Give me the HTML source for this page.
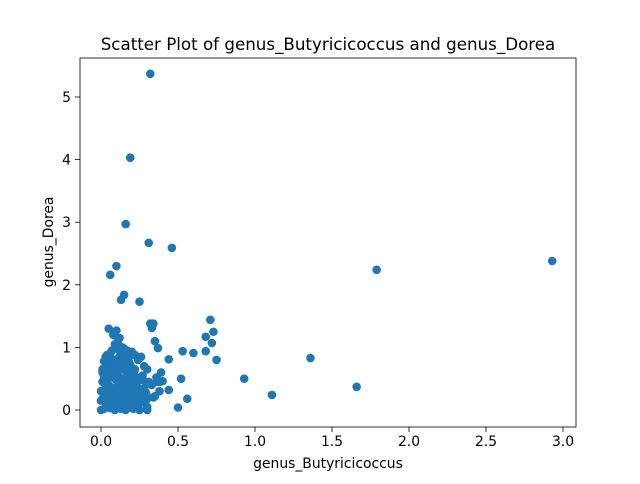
<!DOCTYPE html>
<html><head><meta charset="utf-8"><style>
body{margin:0;background:#fff;font-family:"DejaVu Sans","Liberation Sans",sans-serif}
svg text{font-family:"DejaVu Sans","Liberation Sans",sans-serif}
</style></head><body>
<svg id="c" width="640" height="480">
<rect width="640" height="480" fill="#fff"/>
</svg>
<script>
const xValues=[0.32,0.19,0.16,0.31,0.46,0.06,0.10,1.79,2.93,0.25,0.15,0.13,0.71,0.73,0.68,0.72,0.68,0.75,0.53,0.60,0.44,0.93,1.11,1.36,1.66,0.52,0.50,0.56,0.44,0.35,0.37,0.32,0.34,0.33,0.36,0.39,0.40,0.30,
0.05,0.08,0.10,0.12,0.02,0.03,0.04,0.06,0.07,0.09,0.11,0.13,0.14,0.15,0.17,0.18,0.20,0.22,0.24,0.26,0.28,0.30,
0.01,0.02,0.03,0.05,0.06,0.08,0.10,0.12,0.14,0.16,0.18,0.20,0.22,0.25,0.27,
0.01,0.02,0.04,0.05,0.07,0.09,0.11,0.13,0.15,0.17,0.19,0.21,0.23,0.26,0.29,0.33,
0.00,0.02,0.03,0.05,0.07,0.08,0.10,0.12,0.14,0.16,0.19,0.21,0.24,0.28,0.31,0.35,0.38,
0.00,0.01,0.03,0.04,0.06,0.08,0.10,0.12,0.15,0.17,0.20,0.23,0.26,0.29,0.34,
0.00,0.02,0.04,0.06,0.09,0.11,0.13,0.16,0.18,0.21,0.25,0.30,0.27,0.12,0.08,0.05,0.02,0.19,0.22,0.14,
0.03,0.06,0.09,0.12,0.15,0.18,0.21,0.24,0.04,0.07,0.10,0.13,0.16,0.19,0.22,0.25,0.28,0.02,0.05,0.08,0.11,0.14,0.17,0.20,0.23,0.01,0.04,0.07,0.10,0.13,0.16,0.19,0.03,0.06,0.09,0.12,0.15,0.18,0.11,0.14,0.17,0.09,0.36,0.38,0.31];
const yValues=[5.37,4.03,2.97,2.67,2.59,2.16,2.30,2.24,2.38,1.73,1.84,1.76,1.44,1.25,1.17,1.07,0.94,0.80,0.94,0.91,0.81,0.50,0.24,0.83,0.37,0.50,0.04,0.18,0.32,1.10,0.99,1.38,1.38,1.31,0.52,0.60,0.46,0.00,
1.30,1.20,1.27,1.15,0.78,0.82,0.88,0.90,0.95,1.05,1.10,1.00,0.92,0.98,0.90,0.85,0.93,0.88,0.80,0.85,0.70,0.65,
0.60,0.65,0.70,0.72,0.75,0.70,0.68,0.72,0.66,0.62,0.60,0.58,0.55,0.50,0.48,
0.45,0.48,0.50,0.52,0.55,0.50,0.45,0.48,0.42,0.40,0.38,0.35,0.40,0.30,0.28,0.40,
0.30,0.32,0.35,0.30,0.28,0.32,0.30,0.25,0.28,0.22,0.20,0.25,0.18,0.22,0.20,0.22,0.45,
0.15,0.18,0.12,0.15,0.10,0.14,0.12,0.10,0.08,0.12,0.10,0.08,0.12,0.15,0.20,
0.00,0.02,0.05,0.03,0.00,0.05,0.02,0.00,0.04,0.02,0.00,0.05,0.55,0.85,0.60,0.40,0.50,0.70,0.65,0.35,
0.20,0.22,0.18,0.20,0.16,0.18,0.15,0.12,0.38,0.35,0.36,0.33,0.30,0.32,0.28,0.30,0.35,0.55,0.58,0.52,0.55,0.50,0.48,0.45,0.42,0.65,0.62,0.60,0.58,0.78,0.75,0.72,0.85,0.82,0.80,0.95,0.88,0.78,1.05,1.00,0.95,0.62,0.45,0.30,0.45];
const xTickLabels=["0.0","0.5","1.0","1.5","2.0","2.5","3.0"];
const yTickLabels=["0","1","2","3","4","5"];
const svg=document.getElementById('c');
const NS='http://www.w3.org/2000/svg';
const L=80,R=576,T=58,B=427;
const sx=v=>101+v*154, sy=v=>410-v*62.6;
function mk(t,a,txt){const e=document.createElementNS(NS,t);for(const k in a)e.setAttribute(k,a[k]);if(txt!==undefined)e.textContent=txt;svg.appendChild(e);return e;}
for(let i=0;i<xValues.length;i++){
 const c=mk('circle',{cx:sx(xValues[i]),cy:sy(yValues[i]),r:4.3,fill:'#1f77b4'});
 
 
}
const f=mk('rect',{x:L,y:T,width:R-L,height:B-T,fill:'none',stroke:'#000','stroke-width':0.8});


xTickLabels.forEach(s=>{const x=sx(parseFloat(s));mk('line',{x1:x,x2:x,y1:B,y2:B+5,stroke:'#000','stroke-width':0.8});
 const t=mk('text',{x:x,y:B+19,'font-size':13.9,'text-anchor':'middle'},s);});
yTickLabels.forEach(s=>{const y=sy(parseFloat(s));mk('line',{x1:L-5,x2:L,y1:y,y2:y,stroke:'#000','stroke-width':0.8});
 const t=mk('text',{x:L-9,y:y+5,'font-size':13.9,'text-anchor':'end'},s);});
let t=mk('text',{x:328,y:468,'font-size':13.9,'text-anchor':'middle'},'genus_Butyricicoccus');
t=mk('text',{x:0,y:0,'font-size':13.9,'text-anchor':'middle',transform:'translate(53,242) rotate(-90)'},'genus_Dorea');
t=mk('text',{x:328,y:50,'font-size':16.7,'text-anchor':'middle'},'Scatter Plot of genus_Butyricicoccus and genus_Dorea');
</script>
</body></html>
